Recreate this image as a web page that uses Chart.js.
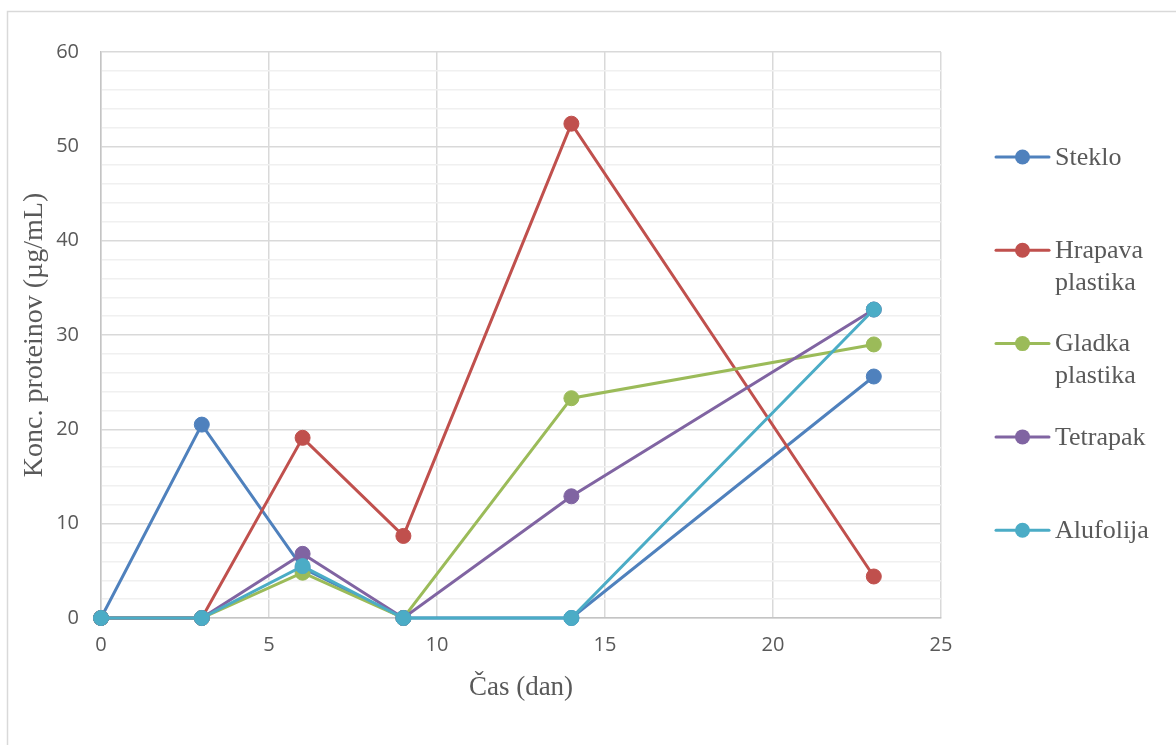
<!DOCTYPE html>
<html>
<head>
<meta charset="utf-8">
<script src="https://cdn.jsdelivr.net/npm/chart.js@4/dist/chart.umd.min.js"></script>
<style>
  html, body { margin: 0; padding: 0; background: #ffffff; }
  #wrap { width: 1176px; height: 745px; position: relative; }
</style>
</head>
<body>
<div id="wrap"><canvas id="c" width="1176" height="745"></canvas></div>
<script>
// Sampling days
const days = [0, 3, 6, 9, 14, 23];

// Protein concentration (µg/mL) per container material
const steklo    = [0, 20.5, 5.3, 0, 0, 25.6];
const hrapava   = [0, 0, 19.1, 8.7, 52.4, 4.4];
const gladka    = [0, 0, 4.8, 0, 23.3, 29.0];
const tetrapak  = [0, 0, 6.8, 0, 12.9, 32.7];
const alufolija = [0, 0, 5.5, 0, 0, 32.7];

const seriesNames  = ['Steklo', 'Hrapava plastika', 'Gladka plastika', 'Tetrapak', 'Alufolija'];
const seriesValues = [steklo, hrapava, gladka, tetrapak, alufolija];
const seriesColors = ['#4F81BD', '#C0504D', '#9BBB59', '#8064A2', '#4BACC6'];

// Axis tick labels
const xTickLabels = [0, 5, 10, 15, 20, 25];
const yTickLabels = [0, 10, 20, 30, 40, 50, 60];

const xTitle = 'Čas (dan)';
const yTitle = 'Konc. proteinov (µg/mL)';

const TEXT = '#595959';
const SERIF = '"Liberation Serif", "Times New Roman", serif';
const SANS = '"Open Sans", "Liberation Sans", sans-serif';

const datasets = seriesNames.map((name, i) => ({
  label: name,
  data: days.map((d, k) => ({ x: d, y: seriesValues[i][k] })),
  borderColor: seriesColors[i],
  backgroundColor: seriesColors[i],
  pointBackgroundColor: seriesColors[i],
  pointBorderColor: seriesColors[i],
  borderWidth: 3,
  pointRadius: 7.5,
  pointBorderWidth: 1,
  showLine: true,
  tension: 0,
  clip: false,
  order: seriesNames.length - i   // later series sit on top
}));

// Light frame around the whole chart
const framePlugin = {
  id: 'frame',
  beforeDraw(chart) {
    const ctx = chart.ctx;
    ctx.save();
    ctx.fillStyle = '#ffffff';
    ctx.fillRect(0, 0, chart.width, chart.height);
    ctx.strokeStyle = '#d9d9d9';
    ctx.lineWidth = 1.5;
    ctx.strokeRect(7.5, 11.5, chart.width + 20, chart.height + 20);
    ctx.restore();
  }
};

// Legend on the right with word-wrapped names
const legendPlugin = {
  id: 'sideLegend',
  afterDraw(chart) {
    const ctx = chart.ctx;
    const lineX0 = 996, lineX1 = 1049, textX = 1055;
    const startY = 157, step = 93.3, lineGap = 31.5, maxW = 112;
    ctx.save();
    ctx.font = '26px ' + SERIF;
    ctx.textBaseline = 'middle';
    ctx.textAlign = 'left';
    chart.data.datasets.forEach((ds, i) => {
      const y = startY + i * step;
      ctx.strokeStyle = ds.borderColor;
      ctx.lineWidth = 3;
      ctx.lineCap = 'round';
      ctx.beginPath();
      ctx.moveTo(lineX0, y);
      ctx.lineTo(lineX1, y);
      ctx.stroke();
      ctx.fillStyle = ds.borderColor;
      ctx.beginPath();
      ctx.arc((lineX0 + lineX1) / 2, y, 7.5, 0, Math.PI * 2);
      ctx.fill();
      // wrap words
      const words = ds.label.split(' ');
      const lines = [];
      let cur = '';
      words.forEach(w => {
        const t = cur ? cur + ' ' + w : w;
        if (cur && ctx.measureText(t).width > maxW) { lines.push(cur); cur = w; }
        else cur = t;
      });
      if (cur) lines.push(cur);
      ctx.fillStyle = TEXT;
      lines.forEach((ln, k) => ctx.fillText(ln, textX, y + 1 + k * lineGap));
    });
    ctx.restore();
  }
};

new Chart(document.getElementById('c'), {
  type: 'scatter',
  data: { datasets },
  plugins: [framePlugin, legendPlugin],
  options: {
    responsive: false,
    animation: false,
    layout: { padding: { left: 0, right: 235, top: 52, bottom: 0 } },
    plugins: {
      legend: { display: false },
      tooltip: { enabled: false }
    },
    scales: {
      x: {
        type: 'linear',
        min: 0, max: 25,
        afterFit(scale) { scale.height = 745 - 618; },
        afterBuildTicks(scale) { scale.ticks = xTickLabels.map(v => ({ value: v })); },
        ticks: {
          color: TEXT,
          font: { family: SANS, size: 20 },
          padding: 15,
          maxRotation: 0,
          autoSkip: false
        },
        grid: { color: '#d9d9d9', lineWidth: 1.5, drawTicks: false },
        border: { color: '#c4c4c4', width: 1.5 },
        title: {
          display: true,
          text: xTitle,
          color: TEXT,
          font: { family: SERIF, size: 27 },
          padding: { top: 0, bottom: 41 }
        }
      },
      y: {
        type: 'linear',
        min: 0, max: 60,
        afterFit(scale) { scale.width = 101; },
        ticks: {
          stepSize: 2,
          autoSkip: false,
          color: TEXT,
          font: { family: SANS, size: 20 },
          padding: 22,
          callback: (v) => yTickLabels.includes(v) ? String(v) : ''
        },
        grid: {
          drawTicks: false,
          lineWidth: 1.5,
          color: (c) => (c.tick && yTickLabels.includes(c.tick.value)) ? '#d9d9d9' : '#f0f0f0'
        },
        border: { color: '#c4c4c4', width: 1.5 },
        title: {
          display: true,
          text: yTitle,
          color: TEXT,
          font: { family: SERIF, size: 28 },
          padding: { top: 18, bottom: 0 }
        }
      }
    }
  }
});
</script>
</body>
</html>
